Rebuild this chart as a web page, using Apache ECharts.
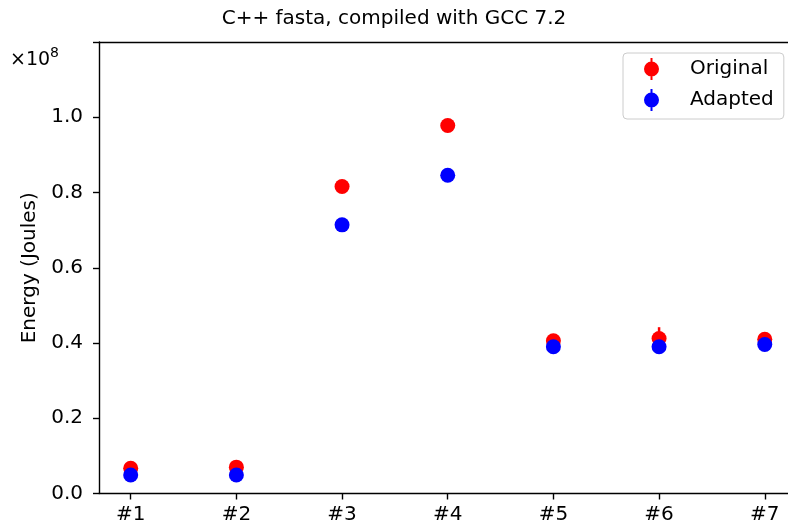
<!DOCTYPE html>
<html>
<head>
<meta charset="utf-8">
<script src="https://cdn.jsdelivr.net/npm/echarts@6/dist/echarts.min.js"></script>
<style>html,body{margin:0;padding:0;background:#fff}#c{width:788px;height:528px}</style>
</head>
<body>
<div id="c"></div>
<script>
// Data (energy in units of 1e8 Joules)
const categories = ['#1', '#2', '#3', '#4', '#5', '#6', '#7'];
const originalValues = [0.067, 0.070, 0.816, 0.978, 0.406, 0.412, 0.410];
const originalErrors = [0.004, 0.008, 0.003, 0.003, 0.003, 0.030, 0.003];
const adaptedValues = [0.049, 0.049, 0.714, 0.846, 0.390, 0.390, 0.396];
const adaptedErrors = [0.002, 0.002, 0.002, 0.002, 0.002, 0.002, 0.002];
const yTicks = [0, 0.2, 0.4, 0.6, 0.8, 1.0, 1.2];
const yTickLabels = ['0.0', '0.2', '0.4', '0.6', '0.8', '1.0', ''];

const FONT = 'DejaVu Sans';
const chart = echarts.init(document.getElementById('c'), null, {renderer: 'canvas'});

function pts(vals) { return vals.map((v, i) => [i, v]); }
function errData(vals, errs) { return vals.map((v, i) => [i, v - errs[i], v + errs[i]]); }
function errSeries(name, vals, errs, color, z) {
  return {
    name: name, type: 'custom', z: z, silent: true,
    data: errData(vals, errs),
    renderItem: function (params, api) {
      const p1 = api.coord([api.value(0), api.value(1)]);
      const p2 = api.coord([api.value(0), api.value(2)]);
      return {type: 'line', shape: {x1: p1[0], y1: p1[1], x2: p2[0], y2: p2[1]},
              style: {stroke: color, lineWidth: 2.5}};
    }
  };
}
const icon = 'path://M0,11 A7.5,7.5 0 1 1 15,11 A7.5,7.5 0 1 1 0,11 Z M6.5,0 H8.5 V22 H6.5 Z';
const axisColor = {color: '#000', width: 1.4};

chart.setOption({
  animation: false,
  backgroundColor: '#fff',
  textStyle: {fontFamily: FONT},
  title: {
    text: 'C++ fasta, compiled with GCC 7.2', left: 'center', top: 4,
    textStyle: {fontFamily: FONT, fontSize: 20, fontWeight: 'normal', color: '#000'}
  },
  grid: {left: 99, top: 42, right: 0, height: 451.5, show: false},
  legend: {
    orient: 'vertical', left: 623, top: 53,
    data: ['Original', 'Adapted'], icon: icon,
    itemWidth: 15, itemHeight: 22, itemGap: 9,
    padding: [5, 10, 8, 21],
    textStyle: {fontFamily: FONT, fontSize: 20, color: '#000', padding: [0, 0, 0, 26]},
    borderColor: '#ccc', borderWidth: 1, borderRadius: 4,
    backgroundColor: 'rgba(255,255,255,0.8)'
  },
  xAxis: [{
    type: 'value', min: -0.3, max: 6.22,
    axisLine: {show: true, onZero: false, lineStyle: axisColor},
    axisTick: {show: true, length: 6, lineStyle: axisColor,
               customValues: categories.map((c, i) => i)},
    axisLabel: {customValues: categories.map((c, i) => i), margin: 11,
                fontFamily: FONT, fontSize: 20, color: '#000',
                formatter: v => categories[Math.round(v)]},
    splitLine: {show: false}
  }, {
    type: 'value', position: 'top', min: -0.3, max: 6.22,
    axisLine: {show: true, onZero: false, lineStyle: axisColor},
    axisTick: {show: false}, axisLabel: {show: false}, splitLine: {show: false}
  }],
  yAxis: {
    type: 'value', min: 0, max: 1.2, interval: 0.2,
    name: 'Energy (Joules)', nameLocation: 'middle', nameGap: 55,
    nameTextStyle: {fontFamily: FONT, fontSize: 20, color: '#000'},
    axisLine: {show: true, onZero: false, lineStyle: axisColor},
    axisTick: {show: true, length: 6, lineStyle: axisColor},
    axisLabel: {margin: 16, fontFamily: FONT, fontSize: 20, color: '#000',
                formatter: v => { const i = yTicks.findIndex(t => Math.abs(t - v) < 1e-6); return i >= 0 ? yTickLabels[i] : ''; }},
    splitLine: {show: false}
  },
  graphic: [
    {type: 'text', left: 10, top: 51, style: {text: '×10', font: '19px "DejaVu Sans"', fill: '#000'}},
    {type: 'text', left: 50, top: 46, style: {text: '8', font: '14px "DejaVu Sans"', fill: '#000'}}
  ],
  series: [
    errSeries('Original err', originalValues, originalErrors, '#ff0000', 2),
    {name: 'Original', type: 'scatter', z: 3, data: pts(originalValues), symbol: 'circle', symbolSize: 15,
     itemStyle: {color: '#ff0000', opacity: 1}},
    errSeries('Adapted err', adaptedValues, adaptedErrors, '#0000ff', 4),
    {name: 'Adapted', type: 'scatter', z: 5, data: pts(adaptedValues), symbol: 'circle', symbolSize: 15,
     itemStyle: {color: '#0000ff', opacity: 1}}
  ]
});
</script>
</body>
</html>
